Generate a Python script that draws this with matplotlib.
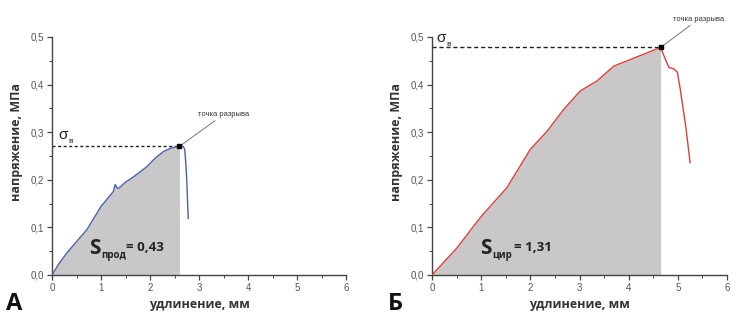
import matplotlib
matplotlib.use("Agg")
import matplotlib.pyplot as plt
from matplotlib.ticker import MultipleLocator, FuncFormatter

# Panel A data (продольное)
xa = [0.0, 0.15, 0.30, 0.50, 0.71, 1.00, 1.25, 1.29, 1.33, 1.36, 1.50, 1.66, 1.93, 2.10, 2.27, 2.41, 2.52, 2.60]
ya = [0.0, 0.025, 0.046, 0.070, 0.095, 0.144, 0.175, 0.190, 0.183, 0.182, 0.195, 0.206, 0.227, 0.245, 0.259, 0.266, 0.269, 0.270]
xa_drop = [2.60, 2.68, 2.71, 2.73, 2.75, 2.78]
ya_drop = [0.270, 0.270, 0.263, 0.235, 0.200, 0.119]
break_a = (2.60, 0.270)

# Panel B data (циркулярное)
xb = [0.0, 0.25, 0.50, 1.00, 1.52, 2.00, 2.34, 2.68, 3.02, 3.36, 3.70, 3.97, 4.31, 4.50, 4.65]
yb = [0.0, 0.028, 0.056, 0.123, 0.183, 0.264, 0.302, 0.348, 0.387, 0.408, 0.439, 0.450, 0.464, 0.472, 0.478]
xb_drop = [4.65, 4.70, 4.76, 4.82, 4.92, 4.99, 5.05, 5.16, 5.25]
yb_drop = [0.478, 0.465, 0.450, 0.436, 0.433, 0.426, 0.390, 0.313, 0.236]
break_b = (4.65, 0.478)

fill_color = "#c9c7c7"
tick_color = "#555555"
bold_font = ["Open Sans", "DejaVu Sans"]
plt.rcParams["font.family"] = ["Liberation Sans", "DejaVu Sans"]

fig = plt.figure(figsize=(7.46, 3.2), dpi=100)
ax1 = fig.add_axes([52/746, 1-275/320, 294/746, 238/320])
ax2 = fig.add_axes([432/746, 1-275/320, 295/746, 238/320])

def style(ax):
    ax.set_xlim(0, 6)
    ax.set_ylim(0, 0.5)
    ax.xaxis.set_major_locator(MultipleLocator(1))
    ax.xaxis.set_minor_locator(MultipleLocator(0.5))
    ax.yaxis.set_major_locator(MultipleLocator(0.1))
    ax.yaxis.set_minor_locator(MultipleLocator(0.05))
    ax.yaxis.set_major_formatter(FuncFormatter(lambda v, p: f"{v:.1f}".replace(".", ",")))
    ax.xaxis.set_major_formatter(FuncFormatter(lambda v, p: f"{v:.0f}"))
    for s in ["top", "right"]:
        ax.spines[s].set_visible(False)
    for s in ["left", "bottom"]:
        ax.spines[s].set_color("#444444")
        ax.spines[s].set_linewidth(1.0)
    ax.tick_params(which="major", direction="out", length=3.5, width=0.9, colors="#444444",
                   labelsize=7, labelcolor=tick_color, pad=2)
    ax.tick_params(which="minor", direction="out", length=2, width=0.7, colors="#444444")
    ax.set_xlabel("удлинение, мм", fontsize=9, fontweight="bold", color="#333333",
                  labelpad=4, family=bold_font)
    ax.set_ylabel("напряжение, МПа", fontsize=9, fontweight="bold", color="#333333",
                  family=bold_font)
    ax.yaxis.set_label_coords(-0.10, 0.56)

for ax in (ax1, ax2):
    style(ax)

# Panel A
ax1.fill_between(xa, ya, 0, color=fill_color, linewidth=0, zorder=1)
ax1.plot(xa, ya, color="#4a5fa8", lw=1.0, zorder=3)
ax1.plot(xa_drop, ya_drop, color="#4a5fa8", lw=1.0, zorder=3)
ax1.plot([0, break_a[0]], [break_a[1], break_a[1]], ls=(0, (2.2, 1.8)), color="#222222", lw=1.0, zorder=2)
ax1.plot(*break_a, "s", color="black", ms=3.5, zorder=4)
ax1.annotate("точка разрыва", xy=break_a, xytext=(2.98, 0.33), fontsize=5.5, color="#333333",
             va="bottom", ha="left",
             arrowprops=dict(arrowstyle="-", color="#777777", lw=0.7, shrinkA=0, shrinkB=2))
ax1.text(0.12, 0.285, "σ", fontsize=11, color="#222222")
ax1.text(0.33, 0.278, "в", fontsize=6, color="#222222")
ax1.text(0.76, 0.045, "S", fontsize=15, fontweight="bold", color="#222222", family=bold_font)
ax1.text(1.0, 0.035, "прод", fontsize=7, fontweight="bold", color="#222222", family=bold_font)
ax1.text(1.52, 0.05, "= 0,43", fontsize=9.5, fontweight="bold", color="#222222", family=bold_font)

# Panel B
ax2.fill_between(xb, yb, 0, color=fill_color, linewidth=0, zorder=1)
ax2.plot(xb, yb, color="#d9403a", lw=1.0, zorder=3)
ax2.plot(xb_drop, yb_drop, color="#d9403a", lw=1.0, zorder=3)
ax2.plot([0, break_b[0]], [break_b[1], break_b[1]], ls=(0, (3, 2)), color="#222222", lw=1.0, zorder=2)
ax2.plot(*break_b, "s", color="black", ms=3.5, zorder=4)
ax2.annotate("точка разрыва", xy=break_b, xytext=(4.9, 0.53), fontsize=5.5, color="#333333",
             va="bottom", ha="left", annotation_clip=False,
             arrowprops=dict(arrowstyle="-", color="#777777", lw=0.7, shrinkA=0, shrinkB=2))
ax2.text(0.08, 0.49, "σ", fontsize=11, color="#222222", clip_on=False)
ax2.text(0.3, 0.482, "в", fontsize=6, color="#222222")
ax2.text(0.98, 0.045, "S", fontsize=15, fontweight="bold", color="#222222", family=bold_font)
ax2.text(1.22, 0.035, "цир", fontsize=7, fontweight="bold", color="#222222", family=bold_font)
ax2.text(1.66, 0.05, "= 1,31", fontsize=9.5, fontweight="bold", color="#222222", family=bold_font)

fig.text(6/746, 1-310/320, "А", fontsize=17, fontweight="bold", color="#111111", family=bold_font)
fig.text(388/746, 1-310/320, "Б", fontsize=17, fontweight="bold", color="#111111", family=bold_font)

fig.savefig("out.png", dpi=100, facecolor="white")
